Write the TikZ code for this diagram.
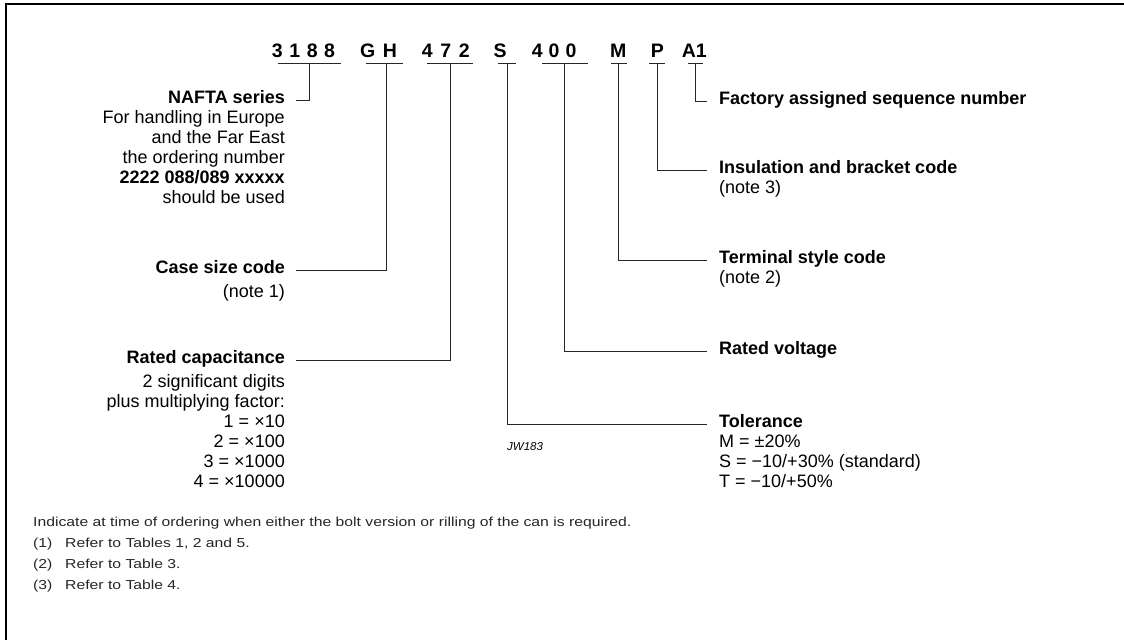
\documentclass[tikz,border=0pt]{standalone}
\usepackage{fontspec}
\setmainfont{Liberation Sans}
\usepackage{graphicx}
\begin{document}
\begin{tikzpicture}[x=1pt,y=-1pt,
  lbl/.style={inner sep=0pt, font=\fontsize{18}{20}\selectfont},
  hd/.style={inner sep=0pt, font=\fontsize{18}{20}\selectfont\bfseries},
  lt/.style={anchor=base east},
  rt/.style={anchor=base west},
  conn/.style={line width=1pt, draw=black!85},
  code/.style={inner sep=0pt, anchor=base west, font=\fontsize{19.5}{22}\selectfont\bfseries},
  note/.style={inner sep=0pt, anchor=base west, text=black!85, font=\fontsize{13}{15}\selectfont},
  frame/.style={line width=1.8pt}]
\useasboundingbox (0,0) rectangle (1124,640);
% frame
\draw[frame] (5.8,640) -- (5.8,4.2) -- (1124,4.2);
% code
\node[code] (c1) at (271.7,57) {3\kern6.6pt1\kern6.6pt8\kern6.6pt8};
\node[code] (c2) at (360,57) {G\kern7.5pt H};
\node[code] (c3) at (421.7,57) {4\kern7.6pt7\kern7.6pt2};
\node[code] (c4) at (493.3,57) {S};
\node[code] (c5) at (531.7,57) {4\kern6pt0\kern6pt0};
\node[code] (c6) at (610,57) {M};
\node[code] (c7) at (650.7,57) {P};
\node[code] (c8) at (681.7,57) {A1};
% underlines
\draw[conn] (278,63) -- (341,63);
\draw[conn] (366,63) -- (403,63);
\draw[conn] (427,63) -- (473,63);
\draw[conn] (498,63) -- (516,63);
\draw[conn] (542,63) -- (588,63);
\draw[conn] (611,63) -- (627,63);
\draw[conn] (649,63) -- (665,63);
\draw[conn] (688,63) -- (703,63);
\coordinate (u1) at (309,63);
\coordinate (u2) at (386,63);
\coordinate (u3) at (450.5,63);
\coordinate (u4) at (507,63);
\coordinate (u5) at (564,63);
\coordinate (u6) at (618,63);
\coordinate (u7) at (657,63);
\coordinate (u8) at (695.5,63);
% left labels
\node[hd,lt] (nafta) at (285,103) {NAFTA series};
\node[lbl,lt] (n1) at (285,123) {For handling in Europe};
\node[lbl,lt] (n2) at (285,143) {and the Far East};
\node[lbl,lt] (n3) at (285,163) {the ordering number};
\node[hd,lt] (n4) at (285,183) {2222 088/089 xxxxx};
\node[lbl,lt] (n5) at (285,203) {should be used};
\node[hd,lt] (cs) at (285,273) {Case size code};
\node[lbl,lt] (cs1) at (285,297) {(note 1)};
\node[hd,lt] (rc) at (285,363) {Rated capacitance};
\node[lbl,lt] (rc1) at (285,387) {2 significant digits};
\node[lbl,lt] (rc2) at (285,407) {plus multiplying factor:};
\node[lbl,lt] (rc3) at (285,427) {1 = ×10};
\node[lbl,lt] (rc4) at (285,447) {2 = ×100};
\node[lbl,lt] (rc5) at (285,467) {3 = ×1000};
\node[lbl,lt] (rc6) at (285,487) {4 = ×10000};
% right labels
\node[hd,rt] (fa) at (719,104) {Factory assigned sequence number};
\node[hd,rt] (ins) at (719,173) {Insulation and bracket code};
\node[lbl,rt] (ins1) at (719,193) {(note 3)};
\node[hd,rt] (ts) at (719,263) {Terminal style code};
\node[lbl,rt] (ts1) at (719,283) {(note 2)};
\node[hd,rt] (rv) at (719,354) {Rated voltage};
\node[hd,rt] (tol) at (719,427) {Tolerance};
\node[lbl,rt] (tol1) at (719,447) {M = ±20\%};
\node[lbl,rt] (tol2) at (719,467) {S = −10/+30\% (standard)};
\node[lbl,rt] (tol3) at (719,487) {T = −10/+50\%};
\node[inner sep=0pt, anchor=base west, font=\fontsize{11.5}{13}\selectfont\itshape] (jw) at (507,450) {JW183};
% connectors
\draw[conn] (u1) |- ([xshift=11pt]nafta.mid east);
\draw[conn] (u2) |- ([xshift=11pt]cs.mid east);
\draw[conn] (u3) |- ([xshift=11pt]rc.mid east);
\draw[conn] (u4) |- ([xshift=-12pt]tol.mid west);
\draw[conn] (u5) |- ([xshift=-12pt]rv.mid west);
\draw[conn] (u6) |- ([xshift=-12pt]ts.mid west);
\draw[conn] (u7) |- ([xshift=-12pt]ins.mid west);
\draw[conn] (u8) |- ([xshift=-12pt]fa.mid west);
% notes
\node[note] (nt0) at (33,526) {\scalebox{1.21}[1]{Indicate at time of ordering when either the bolt version or rilling of the can is required.}};
\node[note] (nt1) at (33,547) {\scalebox{1.21}[1]{(1)}};
\node[note] (nt1t) at (65,547) {\scalebox{1.21}[1]{Refer to Tables 1, 2 and 5.}};
\node[note] (nt2) at (33,568) {\scalebox{1.21}[1]{(2)}};
\node[note] (nt2t) at (65,568) {\scalebox{1.21}[1]{Refer to Table 3.}};
\node[note] (nt3) at (33,589) {\scalebox{1.21}[1]{(3)}};
\node[note] (nt3t) at (65,589) {\scalebox{1.21}[1]{Refer to Table 4.}};
\end{tikzpicture}
\end{document}
